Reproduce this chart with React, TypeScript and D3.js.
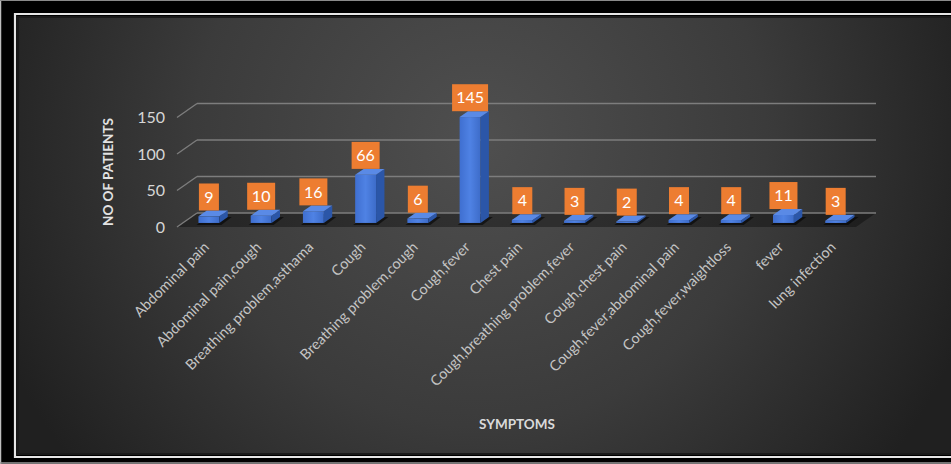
import React from "react";
import * as d3 from "d3";

const CATEGORIES = [
  "Abdominal pain",
  "Abdominal pain,cough",
  "Breathing problem,asthama",
  "Cough",
  "Breathing problem,cough",
  "Cough,fever",
  "Chest pain",
  "Cough,breathing problem,fever",
  "Cough,chest pain",
  "Cough,fever,abdominal pain",
  "Cough,fever,waightloss",
  "fever",
  "lung infection",
];
const VALUES = [9, 10, 16, 66, 6, 145, 4, 3, 2, 4, 4, 11, 3];
const Y_TICKS = [0, 50, 100, 150];
const Y_TITLE = "NO OF PATIENTS";
const X_TITLE = "SYMPTOMS";

const W = 951;
const H = 464;
const FONT = "Lato, 'Open Sans', 'DejaVu Sans', sans-serif";

// 3D geometry
const FRONT_X0 = 177;
const FRONT_X1 = 856;
const DEPTH_DX = 20;
const DEPTH_DY = -14;
const BAR_F1 = 0.29;
const BAR_F2 = 0.71;

export default function App() {
  const x = d3
    .scaleBand<string>()
    .domain(CATEGORIES)
    .range([FRONT_X0, FRONT_X1])
    .paddingInner(0.6)
    .paddingOuter(0.3);
  const y = d3.scaleLinear().domain([0, 150]).range([227, 117.5]);
  const bw = x.bandwidth();

  const fdx = DEPTH_DX * BAR_F1;
  const fdy = DEPTH_DY * BAR_F1;
  const sdx = DEPTH_DX * (BAR_F2 - BAR_F1);
  const sdy = DEPTH_DY * (BAR_F2 - BAR_F1);

  const y0 = y(0);

  return (
    <svg
      width={W}
      height={H}
      style={{ position: "absolute", left: 0, top: 0, display: "block" }}
    >
      <defs>
        <radialGradient
          id="bg"
          gradientUnits="userSpaceOnUse"
          cx={480}
          cy={140}
          r={520}
        >
          <stop offset="0" stopColor="#4f4f4f" />
          <stop offset="0.55" stopColor="#3b3b3b" />
          <stop offset="1" stopColor="#202020" />
        </radialGradient>
        <linearGradient id="barFront" x1="0" x2="1" y1="0" y2="0">
          <stop offset="0" stopColor="#3f6fd0" />
          <stop offset="0.5" stopColor="#4f82e4" />
          <stop offset="1" stopColor="#3d6cc9" />
        </linearGradient>
      </defs>

      {/* outer frame */}
      <rect x={0} y={0} width={W} height={H} fill="#000" />
      <line x1={0.5} y1={0} x2={0.5} y2={H} stroke="#bdbdbd" strokeWidth={1.5} />
      <line x1={0} y1={0.5} x2={W} y2={0.5} stroke="#8a8a8a" strokeWidth={1} />
      <line x1={0} y1={463} x2={W} y2={463} stroke="#9a9a9a" strokeWidth={1.5} />
      <path
        d={`M${W},14 H15 V457 H${W}`}
        fill="none"
        stroke="#e6e6e6"
        strokeWidth={2.2}
      />
      <rect x={17} y={16} width={W - 17} height={439} fill="#1a1a1a" />
      <rect x={19} y={18} width={W - 19} height={435} fill="url(#bg)" />

      {/* floor */}
      <path
        d={`M${FRONT_X0},${y0} L${FRONT_X0 + DEPTH_DX},${y0 + DEPTH_DY} L${
          FRONT_X1 + DEPTH_DX
        },${y0 + DEPTH_DY} L${FRONT_X1},${y0} Z`}
        fill="#000"
        opacity={0.35}
      />

      {/* gridlines on back wall + side wall diagonals */}
      {Y_TICKS.map((t) => (
        <g key={t}>
          <line
            x1={FRONT_X0}
            y1={y(t)}
            x2={FRONT_X0 + DEPTH_DX}
            y2={y(t) + DEPTH_DY}
            stroke="#7d7d7d"
            strokeWidth={1.4}
          />
          <line
            x1={FRONT_X0 + DEPTH_DX}
            y1={y(t) + DEPTH_DY}
            x2={FRONT_X1 + DEPTH_DX}
            y2={y(t) + DEPTH_DY}
            stroke="#7d7d7d"
            strokeWidth={1.4}
          />
          <text
            x={165}
            y={y(t)}
            dy="0.35em"
            textAnchor="end"
            fill="#d6d6d6"
            fontFamily={FONT}
            fontSize={16}
          >
            {t}
          </text>
        </g>
      ))}

      {/* bars */}
      {CATEGORIES.map((c, i) => {
        const v = VALUES[i];
        const bx = (x(c) as number) + fdx;
        const byB = y0 + fdy;
        const byT = y(v) + fdy;
        const top = `M${bx},${byT} L${bx + bw},${byT} L${bx + bw + sdx},${
          byT + sdy
        } L${bx + sdx},${byT + sdy} Z`;
        const side = `M${bx + bw},${byT} L${bx + bw + sdx},${byT + sdy} L${
          bx + bw + sdx
        },${byB + sdy} L${bx + bw},${byB} Z`;
        const shadow = `M${bx - 2},${byB + 2} L${bx + bw + 2},${byB + 2} L${
          bx + bw + sdx + 4
        },${byB + sdy} L${bx + sdx},${byB + sdy} Z`;
        return (
          <g key={c}>
            <path d={shadow} fill="#000" opacity={0.55} />
            <rect
              x={bx}
              y={byT}
              width={bw}
              height={byB - byT}
              fill="url(#barFront)"
            />
            <path d={side} fill="#2b56a8" />
            <path d={top} fill="#5a8ae6" />
          </g>
        );
      })}

      {/* data labels */}
      {CATEGORIES.map((c, i) => {
        const v = VALUES[i];
        const cx = (x(c) as number) + fdx + bw / 2;
        const bottom = y(v) + DEPTH_DY * BAR_F2;
        const label = String(v);
        const bwid = 8 * label.length + 12;
        const bh = 27;
        return (
          <g key={c}>
            <rect
              x={cx - bwid / 2}
              y={bottom - bh}
              width={bwid}
              height={bh}
              fill="#ed7d31"
            />
            <text
              x={cx}
              y={bottom - bh / 2}
              dy="0.36em"
              textAnchor="middle"
              fill="#ffffff"
              fontFamily={FONT}
              fontSize={16}
            >
              {label}
            </text>
          </g>
        );
      })}

      {/* x tick labels */}
      {CATEGORIES.map((c) => {
        const cx = (x(c) as number) + fdx + bw / 2 + 1;
        const ly = 248;
        return (
          <text
            key={c}
            x={cx}
            y={ly}
            transform={`rotate(-45 ${cx} ${ly})`}
            textAnchor="end"
            fill="#c4c4c4"
            fontFamily={FONT}
            fontSize={14.5}
          >
            {c}
          </text>
        );
      })}

      {/* axis titles */}
      <text
        x={108}
        y={172}
        transform="rotate(-90 108 172)"
        textAnchor="middle"
        dy="0.35em"
        fill="#e2e2e2"
        fontFamily={FONT}
        fontWeight="bold"
        fontSize={13.5}
      >
        {Y_TITLE}
      </text>
      <text
        x={517}
        y={424}
        textAnchor="middle"
        dy="0.35em"
        fill="#dadada"
        fontFamily={FONT}
        fontWeight="bold"
        fontSize={13.5}
      >
        {X_TITLE}
      </text>
    </svg>
  );
}
